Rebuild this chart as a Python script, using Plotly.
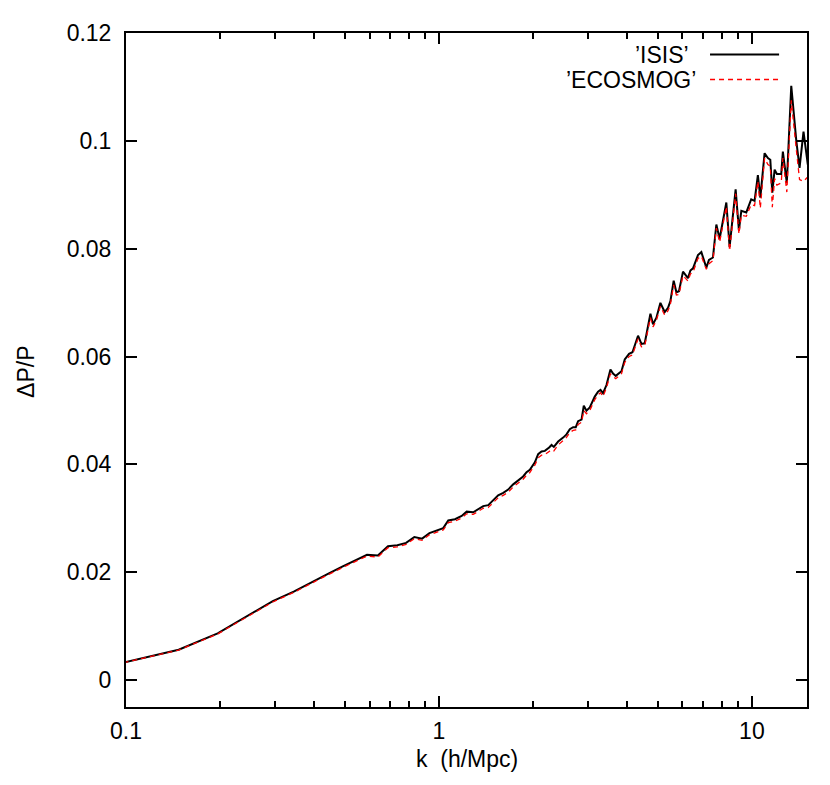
import plotly.graph_objects as go

# k (h/Mpc)
k = [0.0982, 0.1473, 0.1963, 0.2454, 0.2945, 0.3436, 0.3927, 0.4418, 0.4909, 0.5400,
     0.5890, 0.6381, 0.6872, 0.7363, 0.7854, 0.8345, 0.8836, 0.9327, 0.9817, 1.032,
     1.071, 1.125, 1.182, 1.226, 1.287, 1.352, 1.385, 1.437, 1.491, 1.546,
     1.605, 1.664, 1.727, 1.791, 1.858, 1.905, 1.952, 2.025, 2.075, 2.127,
     2.180, 2.250, 2.290, 2.329, 2.404, 2.494, 2.556, 2.619, 2.684, 2.737,
     2.784, 2.855, 2.903, 2.961, 3.034, 3.147, 3.224, 3.282, 3.345, 3.430,
     3.532, 3.600, 3.673, 3.830, 3.924, 4.050, 4.153, 4.327, 4.436, 4.545,
     4.740, 4.831, 4.953, 5.101, 5.265, 5.395, 5.490, 5.625, 5.738, 5.848,
     6.023, 6.248, 6.360, 6.483, 6.725, 6.895, 7.152, 7.292, 7.509, 7.699,
     7.887, 8.285, 8.488, 8.872, 9.090, 9.252, 9.596, 9.95, 10.20, 10.45,
     10.64, 10.98, 11.25, 11.45, 11.62, 11.82, 12.02, 12.41, 12.56, 12.93,
     13.36, 13.86, 14.20, 14.62, 15.09]

isis = [0.00325, 0.00562, 0.00866, 0.01202, 0.01464, 0.01641, 0.01824, 0.01970, 0.02104, 0.02220,
        0.02324, 0.02311, 0.02483, 0.02500, 0.02543, 0.02653, 0.02622, 0.02726, 0.02776, 0.02818,
        0.02959, 0.02983, 0.03043, 0.03123, 0.03111, 0.03184, 0.03226, 0.03244, 0.03336, 0.03427,
        0.03471, 0.03532, 0.03629, 0.03702, 0.03775, 0.03855, 0.03898, 0.04038, 0.04190, 0.04240,
        0.04250, 0.04313, 0.04360, 0.04324, 0.04423, 0.04496, 0.04556, 0.04653, 0.04690, 0.04690,
        0.04800, 0.04831, 0.05087, 0.04995, 0.05056, 0.05257, 0.05349, 0.05380, 0.05319, 0.05471,
        0.05758, 0.05685, 0.05641, 0.05727, 0.05947, 0.06051, 0.06080, 0.06386, 0.06234, 0.06245,
        0.06794, 0.06600, 0.06721, 0.06995, 0.06825, 0.06904, 0.07027, 0.07405, 0.07191, 0.07210,
        0.07575, 0.07453, 0.07594, 0.07636, 0.07881, 0.07936, 0.07649, 0.07790, 0.07837, 0.08448,
        0.08185, 0.08856, 0.08033, 0.09100, 0.08339, 0.08704, 0.08673, 0.08917, 0.08888, 0.09363,
        0.08948, 0.09771, 0.09680, 0.09649, 0.09039, 0.09466, 0.09387, 0.09387, 0.09802, 0.09222,
        0.11020, 0.10010, 0.09497, 0.10170, 0.09557]

ecosmog = [0.00322, 0.00555, 0.00855, 0.01188, 0.01448, 0.01625, 0.01806, 0.01952, 0.02085, 0.02200,
           0.02298, 0.02282, 0.02455, 0.02470, 0.02515, 0.02622, 0.02592, 0.02695, 0.02742, 0.02783,
           0.02918, 0.02945, 0.03005, 0.03083, 0.03072, 0.03140, 0.03185, 0.03200, 0.03290, 0.03380,
           0.03425, 0.03483, 0.03580, 0.03652, 0.03725, 0.03800, 0.03850, 0.03985, 0.04120, 0.04170,
           0.04180, 0.04240, 0.04270, 0.04250, 0.04360, 0.04440, 0.04500, 0.04590, 0.04630, 0.04640,
           0.04740, 0.04780, 0.05000, 0.04940, 0.05000, 0.05200, 0.05290, 0.05330, 0.05260, 0.05420,
           0.05680, 0.05630, 0.05590, 0.05680, 0.05890, 0.06000, 0.06030, 0.06330, 0.06180, 0.06200,
           0.06720, 0.06550, 0.06670, 0.06930, 0.06770, 0.06850, 0.06970, 0.07330, 0.07140, 0.07150,
           0.07500, 0.07400, 0.07530, 0.07560, 0.07820, 0.07860, 0.07620, 0.07720, 0.07780, 0.08380,
           0.08120, 0.08780, 0.07960, 0.09020, 0.08270, 0.08620, 0.08600, 0.08820, 0.08800, 0.09250,
           0.08750, 0.09680, 0.09560, 0.09530, 0.08770, 0.09300, 0.09180, 0.09220, 0.09680, 0.09050,
           0.10750, 0.09850, 0.09280, 0.09250, 0.09330]

x_ticks = [0.1, 1, 10]
x_ticktext = ["0.1", "1", "10"]
x_minor = [0.2, 0.3, 0.4, 0.5, 0.6, 0.7, 0.8, 0.9, 2, 3, 4, 5, 6, 7, 8, 9]
y_ticks = [0, 0.02, 0.04, 0.06, 0.08, 0.1, 0.12]
y_ticktext = ["0", "0.02", "0.04", "0.06", "0.08", "0.1", "0.12"]

FONT = "Liberation Sans, Arial, Helvetica, sans-serif"
FS = 23
RED = "#ff0000"

fig = go.Figure()
fig.add_trace(go.Scatter(x=k, y=isis, mode="lines", name="’ISIS’",
                         line=dict(color="black", width=2), showlegend=False))
fig.add_trace(go.Scatter(x=k, y=ecosmog, mode="lines", name="’ECOSMOG’",
                         line=dict(color=RED, width=1.3, dash="5px,4px"), showlegend=False))

axis_common = dict(showline=True, linecolor="black", linewidth=2, mirror="ticks",
                   ticks="inside", tickcolor="black", tickwidth=1.5, ticklen=11,
                   showgrid=False, zeroline=False,
                   tickfont=dict(family=FONT, size=FS, color="black"))

fig.update_xaxes(type="log", range=[-1, 1.17609], tickvals=x_ticks, ticktext=x_ticktext,
                 minor=dict(tickvals=x_minor, ticks="inside", ticklen=6, tickwidth=1.5,
                            tickcolor="black", showgrid=False),
                 ticklabelstandoff=2, **axis_common)
fig.update_yaxes(range=[-0.005, 0.12], tickvals=y_ticks, ticktext=y_ticktext,
                 ticklabelstandoff=8, **axis_common)

annotations = [
    dict(text="k  (h/Mpc)", x=0.5, y=-0.077, xref="paper", yref="paper",
         xanchor="center", yanchor="middle", showarrow=False,
         font=dict(family=FONT, size=FS, color="black")),
    dict(text="ΔP/P", x=-0.147, y=0.497, xref="paper", yref="paper", textangle=-90,
         xanchor="center", yanchor="middle", showarrow=False,
         font=dict(family=FONT, size=FS, color="black")),
    dict(text="’ISIS’", x=0.830, y=0.968, xref="paper", yref="paper",
         xanchor="right", yanchor="middle", showarrow=False,
         font=dict(family=FONT, size=FS, color="black")),
    dict(text="’ECOSMOG’", x=0.840, y=0.931, xref="paper", yref="paper",
         xanchor="right", yanchor="middle", showarrow=False,
         font=dict(family=FONT, size=FS, color="black")),
]

shapes = [
    dict(type="line", xref="paper", yref="paper", x0=0.8576, x1=0.959, y0=0.968, y1=0.968,
         line=dict(color="black", width=2)),
    dict(type="line", xref="paper", yref="paper", x0=0.8576, x1=0.959, y0=0.931, y1=0.931,
         line=dict(color=RED, width=1.3, dash="5px,4px")),
]

fig.update_layout(width=822, height=777, margin=dict(l=118, r=23, t=15, b=78),
                  plot_bgcolor="white", paper_bgcolor="white",
                  annotations=annotations, shapes=shapes, showlegend=False,
                  font=dict(family=FONT, size=FS, color="black"))

fig.write_html("out.html")
